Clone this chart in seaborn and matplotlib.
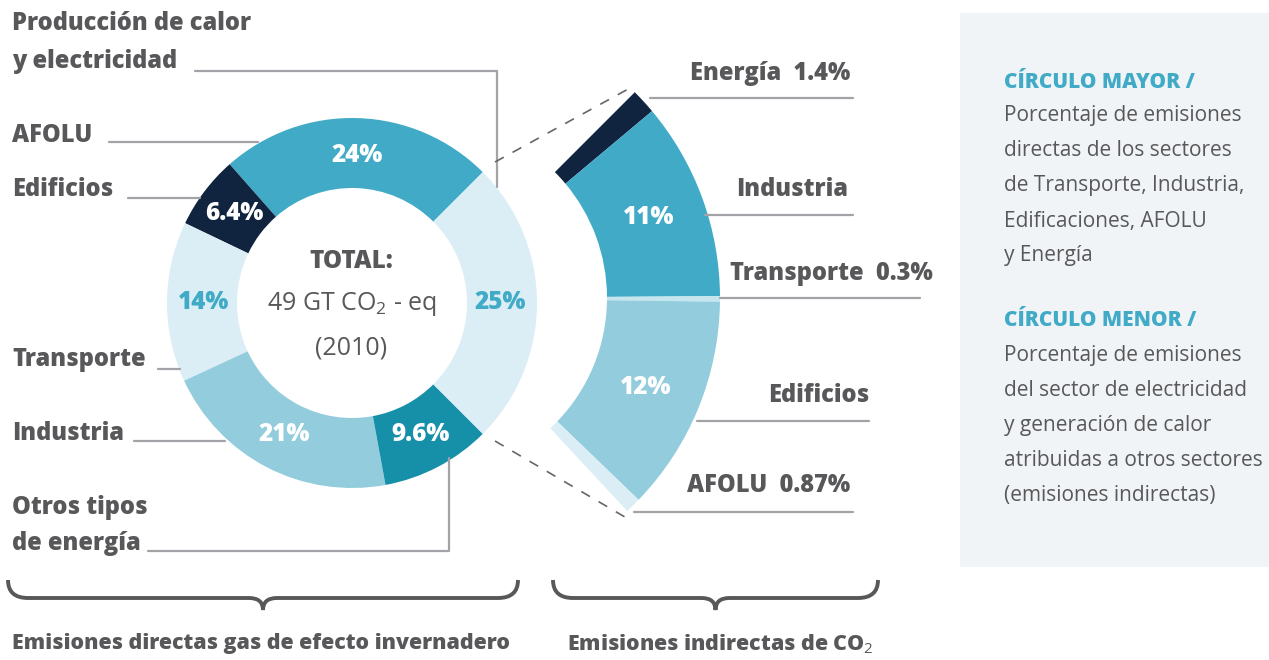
import matplotlib
matplotlib.use("Agg")
import matplotlib.pyplot as plt
import seaborn as sns
from matplotlib.path import Path
from matplotlib.patches import PathPatch, Rectangle

# datos: circulo mayor (emisiones directas, %)
direct_sectors = ["Producción de calor y electricidad", "AFOLU", "Edificios",
                  "Transporte", "Industria", "Otros tipos de energía"]
direct_values = [24, 6.4, 14, 21, 9.6, 25]   # orden del anillo, desde 45 grados
direct_colors = ["#41abc7", "#10233f", "#dbeef5", "#93cddd", "#168fa8", "#dbeef5"]
direct_text_colors = ["white", "white", "#41abc7", "white", "white", "#41abc7"]

# datos: circulo menor (emisiones indirectas, %)
indirect_sectors = ["Energía", "Industria", "Transporte", "Edificios", "AFOLU"]
indirect_values = [1.4, 11, 0.3, 12, 0.87]
indirect_colors = ["#10233f", "#41abc7", "#c6e6ef", "#93cddd", "#dbeef5"]

W, H = 1269, 660
GRAY = "#58585a"
LINE = "#a3a3a7"
BLUE = "#41abc7"
FONT = ["Open Sans", "DejaVu Sans"]

sns.set_theme(style="white")
plt.rcParams["font.family"] = FONT
plt.rcParams["mathtext.fontset"] = "custom"
plt.rcParams["mathtext.rm"] = "Open Sans"

fig = plt.figure(figsize=(W / 100, H / 100), dpi=100)
ax = fig.add_axes([0, 0, 1, 1])


def Y(py):
    return H - py


# ---------------------------
# anillo grande
# ---------------------------
wedges, _, pct = ax.pie(
    direct_values, colors=direct_colors, startangle=45, counterclock=True,
    radius=185, center=(352, Y(303)), wedgeprops=dict(width=70, linewidth=0),
    autopct=lambda p: f"{p:.2g}%", pctdistance=0.8,
    textprops=dict(fontsize=17.5, fontweight="heavy", color="white"))
for t, c in zip(pct, direct_text_colors):
    t.set_color(c)

# anillo parcial (25% desglosado)
rest = 100 - sum(indirect_values)
wedges2, _, pct2 = ax.pie(
    indirect_values + [rest], colors=indirect_colors + ["none"], startangle=45,
    counterclock=False, radius=291, center=(429, Y(298)),
    wedgeprops=dict(width=113, linewidth=0),
    autopct=lambda p: f"{p:.2g}%" if 5 < p < 50 else "", pctdistance=0.806,
    textprops=dict(fontsize=17.5, fontweight="heavy", color="white"))

ax.set_xlim(0, W)
ax.set_ylim(0, H)
ax.set_aspect("equal")
ax.axis("off")

# texto central
ax.text(351, Y(262), "TOTAL:", ha="center", va="center", fontsize=17.5,
        fontweight="heavy", color=GRAY)
ax.text(352, Y(304), "49 GT CO$_2$ - eq", ha="center", va="center",
        fontsize=18, color=GRAY)
ax.text(351, Y(348), "(2010)", ha="center", va="center", fontsize=18, color=GRAY)

# ---------------------------
# etiquetas izquierda
# ---------------------------
lab = dict(fontsize=17, fontweight="heavy", color=GRAY, ha="left", va="center")
ax.text(12, Y(24), "Producción de calor", **lab)
ax.text(12, Y(61), "y electricidad", **lab)
ax.plot([195, 497, 497], [Y(71), Y(71), Y(187)], color=LINE, lw=1.6)
ax.text(12, Y(135), "AFOLU", **lab)
ax.plot([109, 258], [Y(142), Y(142)], color=LINE, lw=1.6)
ax.text(12, Y(190), "Edificios", **lab)
ax.plot([128, 200], [Y(198), Y(198)], color=LINE, lw=1.6)
ax.text(12, Y(360), "Transporte", **lab)
ax.plot([158, 180], [Y(369), Y(369)], color=LINE, lw=1.6)
ax.text(12, Y(433), "Industria", **lab)
ax.plot([134, 225], [Y(441), Y(441)], color=LINE, lw=1.6)
ax.text(12, Y(507), "Otros tipos", **lab)
ax.text(12, Y(543), "de energía", **lab)
ax.plot([148, 449, 449], [Y(551), Y(551), Y(458)], color=LINE, lw=1.6)

# lineas discontinuas
ax.plot([495, 630], [Y(162), Y(88)], color="#666666", lw=1.2, dashes=(6, 6))
ax.plot([495, 630], [Y(441), Y(520)], color="#666666", lw=1.2, dashes=(6, 6))

# ---------------------------
# etiquetas derecha
# ---------------------------
rlab = dict(fontsize=17, fontweight="heavy", color=GRAY, ha="right", va="center")
ax.text(850, Y(73), "Energía  1.4%", **rlab)
ax.plot([650, 853], [Y(98), Y(98)], color=LINE, lw=1.6)
ax.text(848, Y(190), "Industria", **rlab)
ax.plot([705, 853], [Y(215), Y(215)], color=LINE, lw=1.6)
ax.text(933, Y(274), "Transporte  0.3%", **rlab)
ax.plot([720, 920], [Y(298), Y(298)], color=LINE, lw=1.6)
ax.text(869, Y(395), "Edificios", **rlab)
ax.plot([697, 869], [Y(421), Y(421)], color=LINE, lw=1.6)
ax.text(850, Y(486), "AFOLU  0.87%", **rlab)
ax.plot([634, 853], [Y(512), Y(512)], color=LINE, lw=1.6)


# ---------------------------
# llaves inferiores
# ---------------------------
def brace(x0, x1, ytop=580, ybot=598, ytip=610, r=20):
    xm = (x0 + x1) / 2
    verts = [(x0, Y(ytop)), (x0, Y(ybot)), (x0 + r, Y(ybot)),
             (xm - 14, Y(ybot)), (xm, Y(ybot)), (xm, Y(ytip)),
             (xm, Y(ybot)), (xm + 14, Y(ybot)),
             (x1 - r, Y(ybot)), (x1, Y(ybot)), (x1, Y(ytop))]
    codes = [Path.MOVETO, Path.CURVE3, Path.CURVE3, Path.LINETO,
             Path.CURVE3, Path.CURVE3, Path.CURVE3, Path.CURVE3,
             Path.LINETO, Path.CURVE3, Path.CURVE3]
    ax.add_patch(PathPatch(Path(verts, codes), fill=False, ec=GRAY, lw=2.8))


brace(8, 518)
brace(553, 878)
ax.text(12, Y(644), "Emisiones directas gas de efecto invernadero", fontsize=15.4,
        fontweight="heavy", color=GRAY, ha="left", va="center")
ax.text(567, Y(644), "Emisiones indirectas de CO$_2$", fontsize=15.4,
        fontweight="heavy", color=GRAY, ha="left", va="center")

# ---------------------------
# panel lateral
# ---------------------------
ax.add_patch(Rectangle((960, Y(567)), W - 960, 554, color="#f1f4f6", lw=0))
mayor = ["Porcentaje de emisiones", "directas de los sectores",
         "de Transporte, Industria,", "Edificaciones, AFOLU", "y Energía"]
menor = ["Porcentaje de emisiones", "del sector de electricidad",
         "y generación de calor", "atribuidas a otros sectores",
         "(emisiones indirectas)"]
ax.text(1004, Y(82), "CÍRCULO MAYOR /", fontsize=15, fontweight="heavy",
        color=BLUE, ha="left", va="center")
for i, s in enumerate(mayor):
    ax.text(1004, Y(116 + 35 * i), s, fontsize=15, color=GRAY, ha="left", va="center")
ax.text(1004, Y(321), "CÍRCULO MENOR /", fontsize=15, fontweight="heavy",
        color=BLUE, ha="left", va="center")
for i, s in enumerate(menor):
    ax.text(1004, Y(356 + 35 * i), s, fontsize=15, color=GRAY, ha="left", va="center")

fig.savefig("out.png", dpi=100, facecolor="white")
